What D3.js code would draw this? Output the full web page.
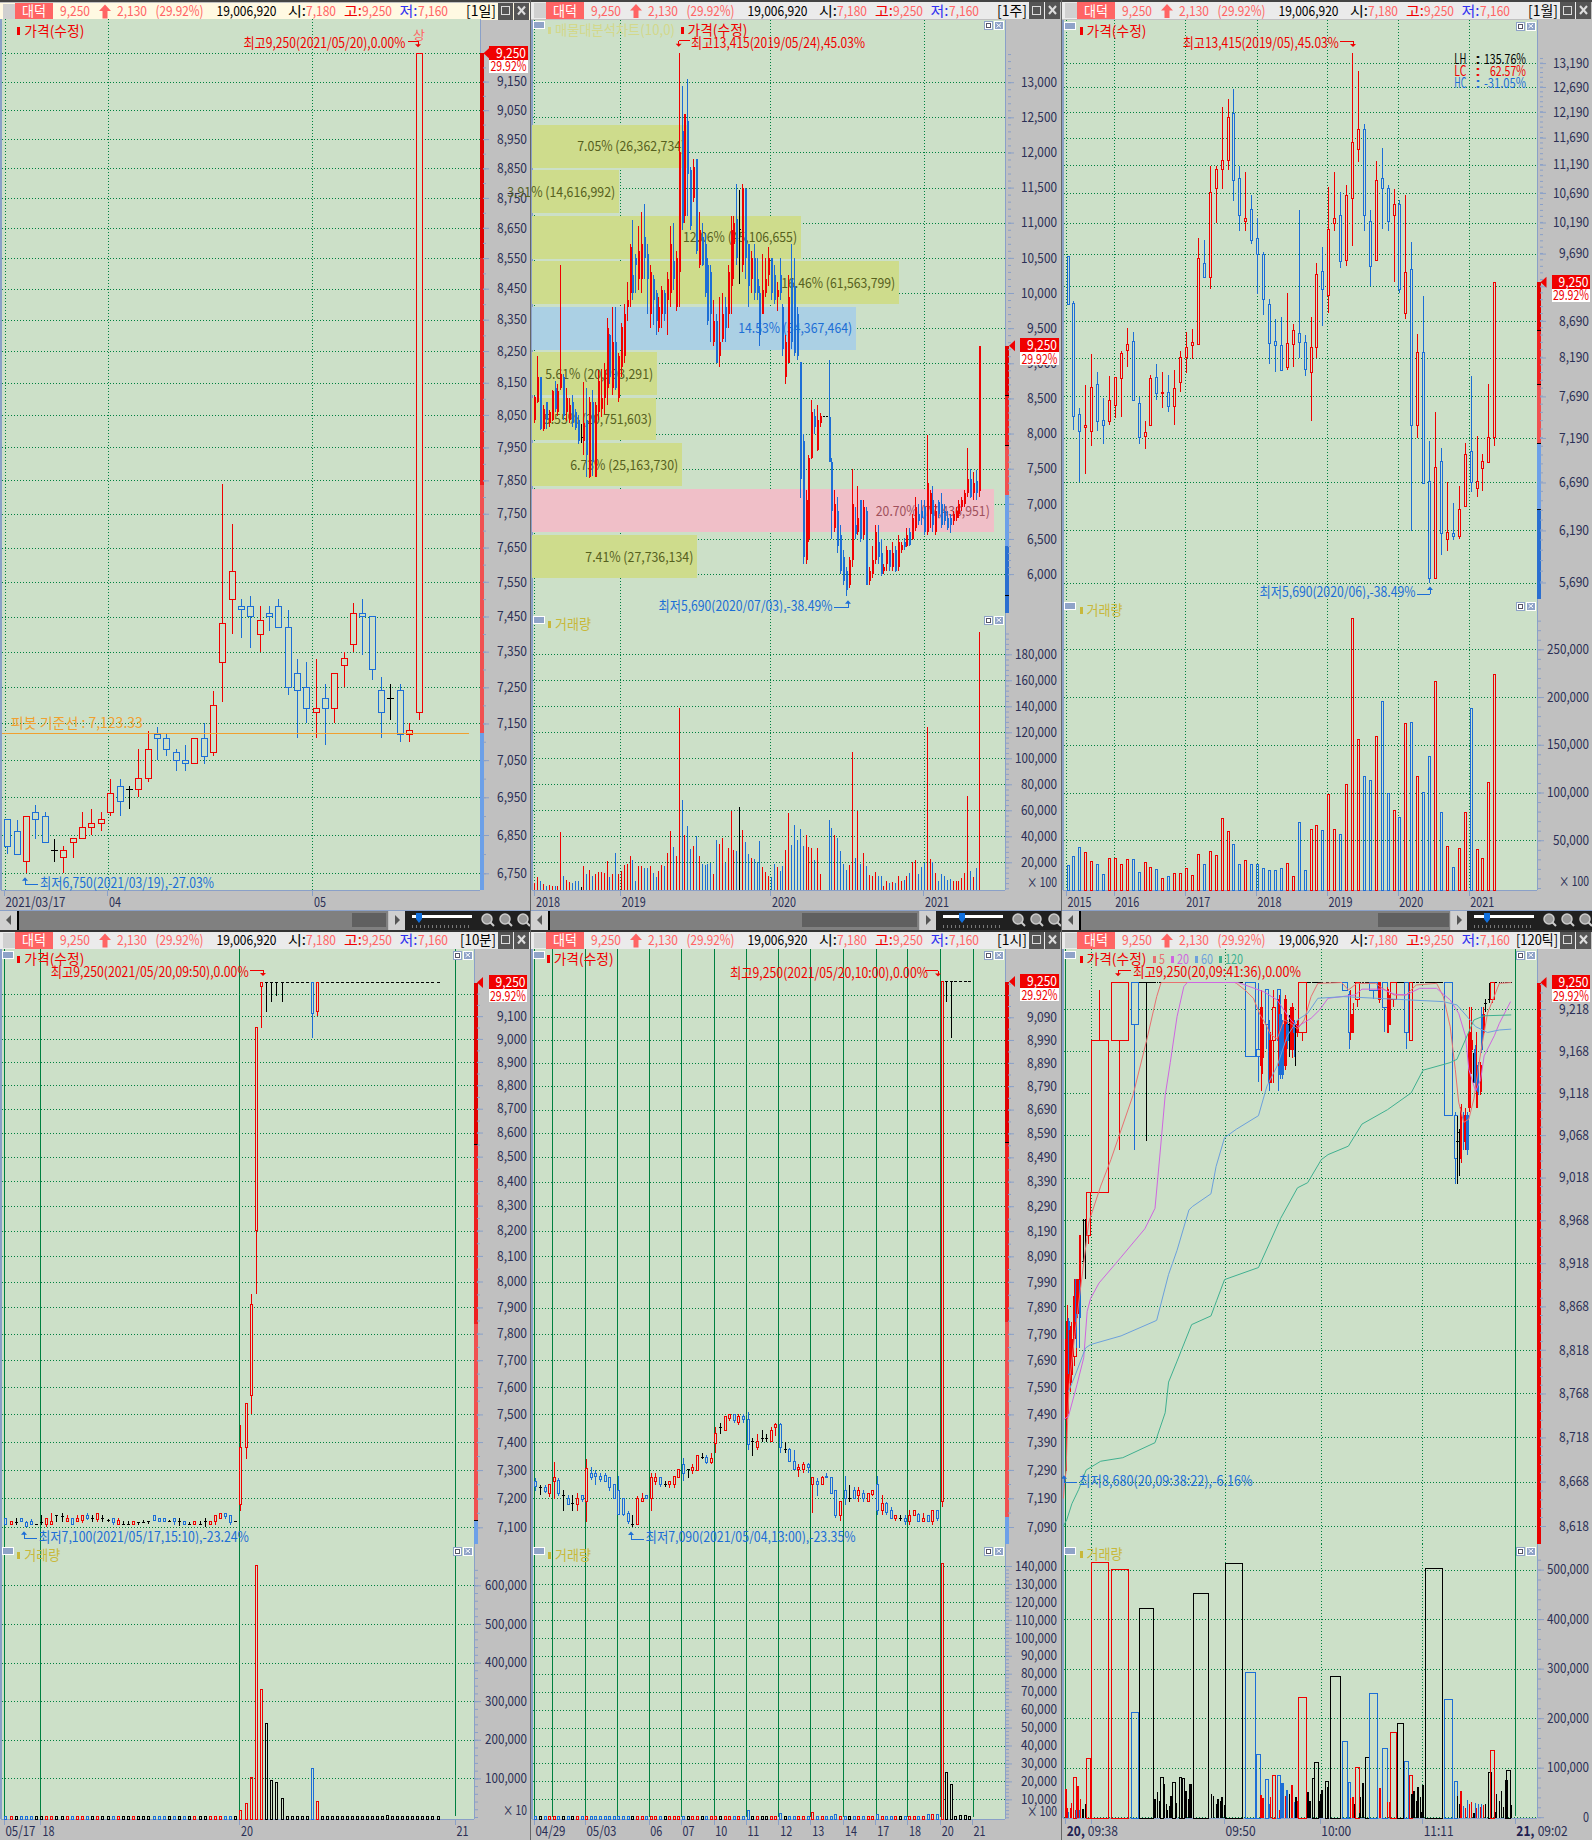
<!DOCTYPE html>
<html><head><meta charset="utf-8">
<style>html,body{margin:0;background:#c0c0c0}svg{display:block}text{font-family:"Noto Sans CJK KR","Noto Sans",sans-serif}</style>
<script src="https://cdn.jsdelivr.net/npm/d3@7"></script></head><body><script>
// ---------- DATA ----------
const stockName="대덕", lastPrice="9,250", changeAbs="2,130", changePct="(29.92%)", totalVol="19,006,920", openP="7,180", highP="9,250", lowP="7,160";
const F=[9250,9250,9250,9250];

// daily: [open, close, high, low]
const dayCandles=[[6890,6820,6890,6800],[6860,6800,6890,6800],[6780,6900,6900,6750],[6910,6890,6930,6840],[6900,6830,6910,6830],[6810,6810,6840,6780],[6790,6810,6820,6750],[6830,6840,6840,6790],[6840,6870,6910,6840],[6870,6880,6920,6850],[6880,6890,6910,6860],[6910,6960,7000,6900],[6980,6940,7000,6900],[6970,6970,6980,6920],[6970,7000,7080,6950],[7000,7080,7130,6990],[7120,7110,7140,7050],[7110,7080,7120,7060],[7070,7050,7080,7020],[7050,7040,7090,7020],[7040,7110,7110,7040],[7110,7060,7150,7040],[7070,7200,7240,7060],[7320,7430,7840,7210],[7500,7580,7720,7400],[7480,7470,7500,7390],[7480,7450,7510,7360],[7400,7440,7480,7350],[7460,7450,7480,7410],[7480,7420,7500,7420],[7420,7250,7470,7230],[7290,7240,7330,7110],[7250,7190,7320,7150],[7180,7190,7330,7110],[7220,7190,7260,7090],[7190,7290,7290,7150],[7310,7330,7350,7250],[7370,7460,7490,7350],[7460,7450,7500,7340],[7450,7300,7450,7270],[7240,7180,7280,7110],[7220,7220,7260,7160],[7240,7120,7260,7100],[7120,7130,7150,7100],[7180,9250,9250,7160]];
const dayTicks=[6750,6850,6950,7050,7150,7250,7350,7450,7550,7650,7750,7850,7950,8050,8150,8250,8350,8450,8550,8650,8750,8850,8950,9050,9150];
const pivotValue=7123.33;

// weekly: [body low, body high, high, low]; direction r/b/k
const weekDir="rrbrbrrbrr"+"brrbbbkrbr"+"brrrrrbrbr"+"rrrrbbrrbb"+"rbbrrbrrbr"+"rbrbbrbrbb"+"bbrbrrbrrr"+"bkrbbrbbbr"+"rrbbrbbrrb"+"bbbbrrrbrr"+"kkbbrbbbbr"+"rbrbrbrrrb"+"brrbrbrrbr"+"brrbbbrrbr"+"bbbbbrrrrr"+"rbrbr";
const weekBody=[
[8200,8520,8540,8150],[8450,8800,9100,8430],[8070,8800,8810,8050],[8060,8350,8400,8040],[8200,8450,8450,8060],[8150,8300,8330,8100],[8200,8600,8620,8180],[8350,8650,8750,8300],[8300,8600,8700,8250],[8650,8850,10400,8620],
[8250,8800,8850,8200],[8300,8500,8650,8180],[8200,8400,8500,8150],[8150,8450,8550,8100],[8080,8300,8350,8050],[7900,8200,8260,7850],[7950,7950,8130,7870],[7900,8150,8730,7700],[7700,8200,8650,7380],[7380,8450,8520,7370],
[7600,8450,8620,7400],[7380,8400,8450,7380],[8300,8750,8900,8200],[8350,8500,8920,8230],[8500,8900,9000,8280],[8650,9500,9650,8400],[8800,9400,9420,8700],[8650,9300,9800,8550],[8650,9300,9800,8620],[8500,9100,9150,8450],
[8950,9520,9570,8800],[9100,9700,9850,9000],[9800,9900,10150,9600],[10000,10650,10700,9800],[10000,10250,11040,9900],[10400,10500,10550,10000],[10200,10600,10950,10050],[10200,10700,11150,10000],[10500,10800,11260,10200],[10200,10550,10700,9700],
[9700,10300,10400,9500],[9900,10200,10250,9550],[9600,10000,10050,9400],[9500,9800,9950,9450],[9700,10050,10100,9500],[9700,10000,10050,9600],[9900,10200,10300,9400],[10000,10700,10950,9800],[10200,10450,11000,10050],[9800,10500,10600,9750],
[10300,12000,13415,9800],[11000,12300,12950,10900],[11100,12550,12550,11000],[11700,12450,13040,11100],[10950,11750,11800,10900],[11350,11800,11900,11300],[10600,11900,11900,10550],[10400,10900,11150,10350],[10400,10800,11000,10380],[10000,10700,10850,9950],
[9600,10400,10500,9550],[9700,10300,10400,9300],[9300,9600,9900,9250],[9000,9600,9700,9000],[9100,9300,9950,8950],[9350,9700,10000,9300],[9500,9800,9950,9300],[9700,10300,10400,9500],[10100,10900,11100,9700],[10700,11000,11100,10200],
[10500,11050,11550,10400],[10900,10900,11470,10130],[10400,11500,11550,10300],[10500,11480,11500,10200],[10100,10700,10700,9800],[10200,10500,10600,10000],[10000,10500,10700,9900],[10000,10200,10500,9900],[9400,10000,10100,9250],[9700,10050,10550,9700],
[10000,10200,10500,9950],[10250,10500,10650,10100],[10000,10500,10500,9900],[9900,10250,10400,9850],[9950,10050,10150,9750],[10000,10250,10500,9900],[9200,9800,9850,9100],[8800,9300,9400,8700],[9000,9950,10250,9000],[9300,10200,10700,9200],
[9150,10100,10500,9100],[9100,9700,9800,9050],[7350,9020,9020,7080],[6250,7900,8000,6150],[6200,7050,7200,6150],[6500,7650,7700,6450],[7650,8300,8480,7640],[8100,8250,8350,8000],[7760,8200,8400,7750],[8150,8250,8290,8090],
[8240,8240,8240,8240],[8240,8240,8240,8240],[7590,8240,9050,7590],[6900,7600,7650,6500],[6650,7000,7200,6600],[6400,6900,7100,6300],[6050,6550,6700,6000],[5900,6250,6350,5850],[5780,6050,6100,5690],[5850,6200,6250,5800],
[6200,7000,7500,6100],[6570,6700,6950,6500],[6600,6800,7260,6550],[6500,7050,7050,6450],[6550,6950,7050,6500],[5850,6900,6950,5850],[5900,6050,6100,5850],[6000,6200,6400,5950],[6200,6600,6700,6150],[6250,6450,6700,6150],
[6000,6300,6500,5980],[6050,6100,6150,6000],[6150,6350,6400,6050],[6100,6350,6350,6050],[6100,6300,6450,6050],[6050,6350,6400,6030],[6100,6450,6550,6050],[6350,6420,6450,6300],[6380,6450,6520,6350],[6400,6550,6650,6380],
[6420,6600,6650,6400],[6500,6800,6850,6480],[6650,6950,7100,6620],[6750,6850,7000,6700],[6800,6900,7050,6700],[6600,6950,7050,6550],[6600,7300,7980,6550],[6850,7150,7200,6650],[6700,7050,7250,6600],[6600,6900,7000,6560],
[6850,7020,7050,6800],[6700,7000,7150,6650],[6750,6900,7000,6700],[6650,6800,6900,6630],[6700,6800,6850,6580],[6750,6850,6900,6700],[6800,6900,6950,6750],[6850,7000,7050,6800],[6950,7050,7100,6900],[7000,7150,7200,6950],
[7150,7350,7800,7100],[7100,7350,7500,7080],[7150,7300,7450,7050],[7150,7320,7480,7050],[7180,9250,9250,7100]];
const weekVol=[3800,8500,5400,3100,1800,2300,1500,1500,1800,43100,9200,6200,4600,3800,5400,5400,800,16900,10800,13800,9200,10800,12300,12300,11500,20800,8500,10800,26900,10800,13100,17700,18500,24600,21500,5400,16900,16900,15400,15400,16900,11500,8500,13100,17700,16900,26900,43800,31500,24600,138500,67700,40800,47700,30000,32300,40000,24600,18500,17700,18500,19200,10800,36900,33800,38500,19200,30800,59200,29200,28500,62300,44600,35400,26200,23100,22300,20000,36200,16200,12300,9200,8500,18500,16200,13100,16900,29200,57700,33100,48500,36900,45400,32300,40800,31800,30800,21500,30800,10800,0,0,52300,46200,40800,38500,28500,18500,13800,17700,104600,23100,59700,18500,26900,16900,10000,9200,12300,9200,9200,1500,5400,3800,4600,3800,9200,5400,6200,9200,11500,20000,21500,10800,16200,19200,123800,22300,20000,11500,5400,10800,9200,6200,6900,5400,5400,5400,7700,11500,70800,13100,8500,15400,197200];
const weekTicks=[6000,6500,7000,7500,8000,8500,9000,9500,10000,10500,11000,11500,12000,12500,13000];
const weekVolTicks=[20000,40000,60000,80000,100000,120000,140000,160000,180000];
// volume-profile bands: [price low, price high, percent, label, kind]
const bandLow=[11784,11132,10490,9838,9196,8543,7902,7249,6596,5944];
const bandHigh=[12392,11751,11098,10457,9804,9162,8510,7868,7204,6551];
const bandPct=[7.05,3.91,12.06,16.46,14.53,5.61,5.55,6.73,20.70,7.41];
const bandVol=["26,362,734","14,616,992","45,106,655","61,563,799","54,367,464","20,993,291","20,751,603","25,163,730","77,436,951","27,736,134"];

// monthly: [open, close, high, low]
const monthCandles=[[9650,8930,9650,8930],[8940,7450,8980,7285],[7470,7270,7545,6690],[7307,7335,7835,6780],[7270,7800,8240,7100],[7840,7390,8000,7270],[7400,7340,7670,7120],[7390,7640,7950,7340],[7580,7930,7940,7420],[7910,8240,8270,7440],[8280,8360,8590,8060],[8400,7640,8540,7640],[7600,7200,7680,7120],[7210,7250,7390,7060],[7340,7910,7960,7340],[7930,7730,8110,7640],[7730,7740,8000,7550],[7740,7560,7960,7500],[7560,7790,8020,7340],[7860,8190,8280,7740],[8190,8320,8540,7990],[8350,8390,8580,8170],[8360,9610,9930,8360],[9530,9320,9900,9320],[9320,10700,11170,9150],[10760,11100,11170,10190],[11100,11270,12280,10760],[11270,12070,12440,11090],[12150,10900,12640,10550],[10950,10300,11170,10050],[10200,10250,11060,10050],[10400,9900,10650,9840],[9930,9680,10260,9080],[9680,9000,9720,8780],[8930,8380,9000,8110],[8400,8350,8710,8000],[8350,8020,8750,8020],[8060,8380,9090,8020],[8360,8550,8650,8070],[8520,8390,10400,8190],[8390,8030,8500,7950],[8000,8320,8750,7390],[8320,9370,9540,8190],[9410,9150,9790,8620],[9050,10070,10800,8800],[10170,10250,11060,10050],[10300,9560,10700,9470],[9580,10640,10830,9500],[10590,11600,13415,9810],[11460,11840,13020,11240],[11840,10300,11950,10050],[10210,9490,10400,9200],[9590,10900,11260,9570],[10950,10760,11500,10090],[10760,10200,10830,10050],[10300,10500,10750,9250],[10490,9140,10570,9090],[8800,9400,10650,8720],[9440,7340,9870,6180],[7340,8250,8510,7190],[8250,6680,9040,6680],[6700,5730,7150,5690],[5730,6850,7500,5730],[6920,6160,7070,5950],[6100,6170,6700,5990],[6160,6130,6470,6100],[6130,6400,6650,6110],[6430,7000,7130,6430],[7030,6690,7950,6590],[6630,6700,7210,6530],[6840,6920,7000,6600],[6910,7190,7840,6900],[7190,9250,9250,7100]];
const monthVol=[23700,33000,42600,37300,28000,24800,14300,31000,31000,24800,30000,30000,16400,26900,21600,19500,10100,12200,15400,15400,20600,13300,35200,24800,38400,34200,73000,59300,45700,24800,29000,24800,24800,20600,18500,18500,20600,25800,12200,68800,18500,61400,65600,60400,98000,61400,56200,108500,282000,155700,117000,112700,158800,195400,99100,81300,74000,172400,173500,117000,100200,137900,216400,79200,43600,21600,41500,79200,188100,40500,31000,110600,223700];
const monthTicks=[5690,6190,6690,7190,7690,8190,8690,9190,9690,10190,10690,11190,11690,12190,12690,13190];
const monthVolTicks=[50000,100000,150000,200000,250000];
const rangeStats=[["LH","135.76%"],["LC","62.57%"],["HC","-31.05%"]];

// 10-minute
const tenCandles=[[7131,7109,7131,7109],[7109,7120,7120,7109],[7117,7117,7131,7109],[7130,7120,7130,7120],[7117,7102,7122,7100],[7120,7109,7129,7109],[7111,7111,7111,7111],[7117,7117,7142,7108],[7109,7131,7131,7100],[7109,7120,7148,7109],[7140,7140,7142,7120],[7137,7137,7148,7120],[7120,7131,7141,7117],[7130,7109,7130,7109],[7120,7131,7141,7120],[7125,7140,7140,7116],[7142,7130,7149,7125],[7131,7131,7142,7117],[7128,7148,7148,7117],[7131,7131,7142,7117],[7125,7125,7130,7117],[7130,7117,7130,7108],[7109,7123,7132,7109],[7111,7111,7122,7111],[7111,7111,7122,7111],[7109,7120,7120,7109],[7117,7117,7117,7109],[7117,7117,7125,7117],[7120,7120,7120,7112],[7140,7125,7140,7125],[7131,7120,7131,7120],[7131,7120,7131,7120],[7120,7120,7125,7120],[7130,7120,7130,7109],[7120,7120,7131,7105],[7120,7109,7120,7109],[7111,7111,7120,7111],[7109,7120,7120,7109],[7111,7111,7122,7111],[7120,7120,7131,7100],[7109,7120,7120,7109],[7120,7140,7140,7109],[7131,7148,7148,7129],[7148,7137,7148,7127],[7142,7117,7142,7108],[7120,7120,7120,7120],[7180,7381,7462,7156],[7381,7539,7539,7338],[7570,7910,7950,7500],[8200,9050,9050,7950],[9230,9250,9250,9050],[9250,9250,9250,9120],[9250,9250,9250,9165],[9250,9250,9250,9190],[9250,9250,9250,9165],F,F,F,F,F,[9250,9110,9250,9005],[9120,9250,9250,9100],F,F,F,F,F,F,F,F,F,F,F,F,F,F,F,F,F,F,F,F,F,F,F,F];
const tenVol=[500,500,500,500,500,500,500,500,500,500,500,500,500,500,500,500,500,500,500,500,500,500,500,500,500,500,500,500,500,500,500,500,500,500,2500,500,500,500,500,500,500,500,500,500,500,500,18000,36000,102500,651000,331000,243000,95700,89700,48700,2500,500,500,2500,2000,125000,41000,500,500,500,500,500,500,500,500,500,2500,500,500,500,3000,500,500,2000,500,500,500,500,500,500,500];
const tenTicks=[7100,7200,7300,7400,7500,7600,7700,7800,7900,8000,8100,8200,8300,8400,8500,8600,8700,8800,8900,9000,9100];
const tenVolTicks=[100000,200000,300000,400000,500000,600000];

// 1-hour
const hourCandles=[[7250,7230,7262,7217],[7228,7228,7238,7200],[7228,7215,7238,7207],[7207,7238,7238,7195],[7250,7262,7320,7189],[7252,7207,7262,7198],[7198,7198,7220,7147],[7190,7168,7202,7167],[7170,7170,7202,7147],[7168,7190,7207,7147],[7198,7186,7202,7178],[7178,7296,7330,7108],[7278,7264,7300,7255],[7278,7266,7290,7237],[7266,7255,7278,7248],[7272,7248,7278,7248],[7262,7228,7266,7215],[7238,7190,7238,7187],[7219,7135,7268,7135],[7190,7135,7190,7128],[7138,7109,7147,7100],[7100,7100,7131,7090],[7100,7190,7198,7100],[7178,7190,7207,7178],[7198,7190,7198,7189],[7190,7262,7278,7147],[7250,7262,7278,7238],[7262,7237,7266,7228],[7238,7238,7250,7228],[7238,7250,7250,7227],[7238,7266,7266,7227],[7262,7290,7290,7262],[7310,7278,7333,7250],[7290,7290,7290,7262],[7288,7300,7310,7276],[7288,7340,7340,7288],[7333,7333,7352,7328],[7335,7316,7345,7310],[7318,7330,7352,7310],[7383,7420,7445,7352],[7442,7442,7460,7418],[7432,7482,7482,7432],[7476,7490,7490,7465],[7490,7469,7490,7458],[7462,7482,7490,7453],[7482,7470,7490,7458],[7472,7380,7500,7360],[7390,7390,7405,7340],[7370,7390,7420,7362],[7402,7402,7432,7390],[7402,7402,7418,7390],[7390,7432,7445,7390],[7442,7454,7460,7410],[7454,7370,7457,7349],[7362,7362,7390,7349],[7362,7320,7370,7319],[7320,7290,7362,7289],[7290,7300,7310,7266],[7290,7310,7320,7278],[7310,7300,7314,7278],[7238,7262,7262,7138],[7250,7238,7262,7198],[7238,7262,7270,7238],[7266,7262,7278,7261],[7262,7207,7262,7207],[7219,7130,7219,7120],[7130,7178,7178,7110],[7219,7188,7268,7167],[7190,7190,7238,7178],[7219,7190,7228,7189],[7198,7219,7228,7178],[7207,7190,7219,7178],[7178,7207,7207,7178],[7204,7217,7217,7198],[7238,7149,7268,7130],[7147,7170,7202,7130],[7170,7140,7178,7132],[7147,7120,7158,7119],[7118,7130,7130,7110],[7120,7120,7130,7110],[7120,7110,7130,7098],[7110,7130,7150,7098],[7130,7147,7150,7130],[7132,7110,7138,7107],[7110,7120,7138,7110],[7130,7110,7130,7110],[7110,7147,7147,7098],[7147,7120,7147,7110],[7178,9250,9250,7160],[9250,9250,9250,9160],[9250,9250,9250,9000],F,F,F,F];
const hourVol=[500,500,500,500,500,500,500,500,500,500,500,500,500,500,500,500,500,500,500,500,500,500,500,500,500,500,500,500,500,500,500,500,500,500,500,500,500,500,500,500,500,500,500,500,500,500,4000,500,500,500,500,500,500,2000,500,500,500,500,500,500,2500,500,500,500,500,1500,500,500,500,500,500,500,500,500,1500,500,500,500,500,500,500,500,500,500,500,1500,1500,1500,141500,25000,18400,500,1000,1000,500];
const hourTicks=[7090,7190,7290,7390,7490,7590,7690,7790,7890,7990,8090,8190,8290,8390,8490,8590,8690,8790,8890,8990,9090];
const hourVolTicks=d3.range(10000,150000,10000);

// 120-tick equivolume: bar start along the cumulative volume axis, and volume
const tickPos=[18,22,26,30,34,40,45,48,52,58,60,68,74,78,92,151,210,234,280,287,293,296,306,313,318,323,327,333,341,344,351,360,368,372,379,385,393,446,453,461,466,472,478,485,487,546,579,593,598,606,616,621,626,640,646,650,656,664,670,676,684,691,695,700,702,730,737,743,751,764,768,773,783,790,798,832,850,857,864,868,872,883,885,893,900,912,942,950,966,971,974,994,1015,1031,1038,1044,1050,1056,1062,1066,1071,1077,1133,1163,1171,1177,1182,1190,1194,1201,1207,1213,1220,1224,1228,1233,1240,1243,1249,1254,1262,1268,1285,1287,1295,1301,1307,1312,1317,1331];
const tickVol=[57000,19000,10000,19000,29000,81000,15000,15000,63000,15000,36000,17000,26000,119000,515000,500000,212000,421000,36000,50000,33000,81000,67000,26000,15000,22000,43000,71000,31000,29000,81000,79000,31000,52000,36000,67000,451000,47000,43000,27000,36000,33000,41000,25000,512000,293000,127000,45000,38000,77000,26000,41000,85000,85000,15000,40000,69000,43000,54000,47000,65000,31000,41000,33000,241000,50000,33000,79000,111000,33000,47000,54000,73000,60000,284000,153000,71000,38000,40000,26000,101000,8000,40000,70000,121000,250000,59000,139000,31000,31000,172000,190000,113000,85000,47000,52000,33000,60000,41000,10000,65000,503000,238000,72000,42000,26000,52000,22000,19000,34000,27000,31000,8000,28000,19000,26000,21000,26000,24000,26000,90000,135000,11000,47000,33000,52000,21000,74000,95000,24000];
// candles that moved: [bar start, open, close, high, low]; bars not listed traded flat at the high
const tickCandles=[[18,8740,8830,8835,8680],[22,8745,8850,8870,8740],[26,8850,8800,8855,8790],[30,8780,8840,8845,8770],[34,8790,8830,8850,8780],[40,8810,8880,8900,8800],[45,8835,8880,8899,8830],[48,8899,8850,8899,8820],[52,8860,8899,8900,8855],[58,8899,8855,8899,8820],[60,8899,8950,8950,8890],[68,8920,8920,8970,8919],[74,8968,8968,8970,8900],[78,8950,9000,9000,8940],[92,9000,9181,9241,9000],[151,9181,9250,9250,9050],[210,9250,9200,9250,9050],[234,9250,9250,9250,9061],[546,9250,9161,9250,9161],[579,9170,9161,9250,9131],[593,9150,9220,9241,9120],[598,9160,9200,9220,9140],[606,9241,9200,9241,9170],[616,9200,9130,9205,9120],[621,9130,9181,9190,9130],[626,9181,9220,9241,9130],[640,9241,9181,9241,9120],[646,9150,9230,9235,9140],[650,9211,9140,9215,9135],[656,9200,9140,9205,9135],[664,9150,9230,9235,9145],[670,9200,9181,9205,9170],[676,9200,9200,9211,9161],[684,9170,9220,9225,9160],[691,9200,9190,9205,9161],[695,9190,9190,9200,9150],[700,9190,9200,9205,9185],[702,9190,9250,9250,9180],[832,9250,9240,9250,9240],[850,9235,9190,9240,9170],[857,9190,9211,9241,9181],[864,9190,9211,9225,9190],[872,9230,9250,9250,9220],[912,9250,9240,9250,9230],[942,9230,9250,9250,9225],[950,9250,9220,9250,9190],[966,9190,9241,9245,9190],[971,9200,9230,9235,9200],[974,9230,9250,9250,9220],[1015,9250,9190,9250,9170],[1031,9181,9250,9250,9181],[1133,9250,9091,9250,9091],[1163,9091,9041,9095,9010],[1171,9060,9060,9091,9010],[1177,9071,9071,9075,9020],[1182,9041,9101,9105,9035],[1190,9091,9071,9095,9051],[1194,9061,9091,9100,9050],[1201,9091,9051,9095,9045],[1207,9101,9190,9220,9095],[1213,9170,9181,9220,9140],[1220,9150,9150,9165,9130],[1224,9170,9130,9175,9125],[1228,9101,9130,9190,9101],[1233,9150,9120,9155,9115],[1240,9120,9150,9155,9115],[1243,9211,9170,9220,9165],[1249,9190,9211,9220,9185],[1254,9225,9225,9230,9215],[1262,9230,9230,9250,9225],[1268,9230,9250,9250,9225]];
const ma5=[[10,8649],[14,8668],[18,8680],[22,8731],[27,8778],[45,8840],[85,8966],[120,9008],[150,9039],[215,9115],[255,9180],[285,9233],[298,9250],[515,9250],[520,9249],[545,9241],[570,9231],[590,9211],[605,9201],[620,9188],[640,9182],[660,9205],[680,9201],[700,9194],[720,9205],[740,9233],[760,9249],[830,9250],[850,9241],[875,9249],[930,9249],[950,9243],[985,9235],[1020,9235],[1050,9247],[1110,9249],[1130,9233],[1150,9197],[1165,9146],[1175,9107],[1190,9083],[1205,9087],[1220,9111],[1240,9166],[1260,9213],[1295,9249],[1330,9250]];
const ma20=[[10,8738],[25,8742],[50,8778],[70,8809],[80,8862],[90,8877],[115,8895],[180,8925],[250,8958],[280,8982],[295,9047],[310,9115],[325,9154],[345,9209],[365,9245],[375,9250],[525,9250],[600,9239],[640,9229],[680,9205],[700,9197],[740,9207],[765,9217],[790,9231],[830,9233],[870,9235],[890,9242],[950,9242],[985,9236],[1020,9235],[1060,9243],[1110,9243],[1150,9229],[1175,9213],[1195,9186],[1205,9146],[1225,9120],[1240,9134],[1250,9162],[1280,9186],[1295,9201],[1328,9227]];
const ma60=[[25,8770],[45,8789],[75,8820],[90,8824],[180,8834],[280,8851],[285,8852],[320,8905],[345,8933],[380,8980],[390,8984],[445,8999],[460,9031],[485,9065],[520,9075],[585,9091],[610,9126],[640,9150],[670,9186],[700,9205],[730,9213],[760,9231],[835,9233],[1130,9227],[1170,9223],[1200,9209],[1225,9197],[1260,9190],[1295,9193],[1330,9194]];
const ma120=[[10,8618],[20,8625],[35,8643],[55,8659],[77,8681],[120,8691],[185,8695],[280,8712],[310,8746],[320,8781],[345,8805],[388,8847],[445,8857],[462,8875],[485,8899],[585,8913],[650,8970],[700,9006],[730,9012],[770,9039],[790,9045],[850,9055],[890,9081],[965,9098],[1035,9118],[1070,9145],[1150,9154],[1170,9158],[1220,9205],[1250,9210],[1330,9211]];
const tickTicks=[8618,8668,8718,8768,8818,8868,8918,8968,9018,9068,9118,9168,9218];
const tickVolTicks=[0,100000,200000,300000,400000,500000];

// ---------- STYLE ----------
const BG="#cce0c8",GRID="#008040",AXC="#8aa0c8",LBL="#2b2f55",RED="#f00000",BLUE="#1c6ed6",SAL="#ff6464";
const COL={r:RED,b:BLUE,k:"#000"};
const tw=s=>[...s].reduce((a,c)=>a+(c.charCodeAt(0)>255?12:6),0);
const svg=d3.select("body").append("svg").attr("width",1592).attr("height",1840);
svg.append("rect").attr("width",1592).attr("height",1840).attr("fill","#c0c0c0");
function T(g,x,y,s,fill,o={}){const w=o.w||tw(s);if(o.end)x-=w;
  return g.append("text").attr("x",x).attr("y",y).attr("dy",".36em").attr("fill",fill).attr("font-size",o.size||14).attr("font-weight",o.weight||null).attr("textLength",w).attr("lengthAdjust","spacingAndGlyphs").text(s);}
function R(g,x,y,w,h,fill,stroke){return g.append("rect").attr("x",x).attr("y",y).attr("width",w).attr("height",h).attr("fill",fill).attr("stroke",stroke||"none").attr("shape-rendering","crispEdges");}
function L(g,x1,y1,x2,y2,c,sw=1,dash){return g.append("line").attr("x1",x1).attr("y1",y1).attr("x2",x2).attr("y2",y2).attr("stroke",c).attr("stroke-width",sw).attr("stroke-dasharray",dash||null).attr("shape-rendering","crispEdges");}

function header(x0,y0,period,active){const g=svg.append("g"),yc=y0+8.5;
  R(g,x0,y0,530-(x0?1:0),17,active?"#fff9e2":"#ebebeb");
  R(g,x0+3,y0+1,12,15,"#d0d0d0");R(g,x0+15,y0,38,17,SAL);
  T(g,x0+22,yc,stockName,"#fff",{size:14});
  T(g,x0+60,yc,lastPrice,SAL);
  g.append("path").attr("d",`M${x0+105},${y0+2}l6,6.5h-3.5v7.5h-5v-7.5h-3.5z`).attr("fill",SAL);
  T(g,x0+117,yc,changeAbs,SAL);T(g,x0+155.5,yc,changePct,SAL);
  T(g,x0+216.5,yc,totalVol,"#000");T(g,x0+288,yc,"시:","#000");T(g,x0+306,yc,openP,SAL);
  T(g,x0+344,yc,"고:",RED);T(g,x0+362,yc,highP,SAL);T(g,x0+399.5,yc,"저:","#3030f0");T(g,x0+418,yc,lowP,SAL);
  T(g,x0+496,yc,"["+period+"]","#000",{end:true});
  [498,514].forEach((b,i)=>{R(g,x0+b,y0,15,17,"#555");
    if(i==0)R(g,x0+b+3.5,y0+4,8,8,"none","#ddd");else{L(g,x0+b+4,y0+4,x0+b+11,y0+12,"#ddd",2).attr("shape-rendering",null);L(g,x0+b+11,y0+4,x0+b+4,y0+12,"#ddd",2).attr("shape-rendering",null);}});
}
function scrollbar(x0,t0,t1,knob){const g=svg.append("g"),y=911;
  L(g,x0,910.5,x0+530,910.5,AXC);
  R(g,x0,y,388,19,"#808080");R(g,x0,y,17,19,"#d0d0d0");R(g,x0+17,y,1.5,19,"#000");
  R(g,t0,y+2,t1-t0,14,"#606060");R(g,x0+389,y,16,19,"#d0d0d0");
  g.append("path").attr("d",`M${x0+6},${y+9}l5,-5v10z`).attr("fill","#555");
  g.append("path").attr("d",`M${x0+400},${y+9}l-5,-5v10z`).attr("fill","#555");
  R(g,x0+405,y,125,19,"#202020");R(g,x0+412,y+4,60,3,"#fff");
  d3.range(412,472,4).forEach(d=>L(g,x0+d,y+14,x0+d,y+17,"#777"));
  g.append("path").attr("d",`M${knob-3},${y+2}h6v6l-3,4l-3,-4z`).attr("fill","#1070e0");
  [487,505,523].forEach(d=>{g.append("circle").attr("cx",x0+d).attr("cy",y+8).attr("r",5).attr("fill","#999").attr("stroke","#ccc").attr("stroke-width",1.5);
    g.append("line").attr("x1",x0+d+3.5).attr("y1",y+11.5).attr("x2",x0+d+7).attr("y2",y+15).attr("stroke","#ccc").attr("stroke-width",2);});
  R(g,x0,y+19,530,2,"#333");
}
function frame(l,t,r,b){const g=svg.append("g");R(g,l,t,r-l,b-t,BG);L(g,l-.5,t,l-.5,b,AXC,2);L(g,l,b+.5,r,b+.5,AXC);L(g,r+.5,t,r+.5,b,AXC);return g;}
function winIcons(g,l,r,y){R(g,l+1,y,11,7,"#8fa3c8","#fff");
  R(g,r-21,y,8.5,8,"#fff","#8fa3c8");R(g,r-19,y+2,4.5,4,"#fff","#556");R(g,r-10.5,y,8.5,8,"#8fa3c8","#fff");
  L(g,r-8.5,y+2,r-4,y+6,"#fff").attr("shape-rendering",null);L(g,r-4,y+2,r-8.5,y+6,"#fff").attr("shape-rendering",null);}
function hgrid(g,y,vals,l,r){g.selectAll(null).data(vals).join("line").attr("x1",l).attr("x2",r).attr("y1",d=>Math.round(y(d))+.5).attr("y2",d=>Math.round(y(d))+.5).attr("stroke",GRID).attr("stroke-dasharray","1 2").attr("shape-rendering","crispEdges");}
function vdots(g,xs,t,b){xs.forEach(x=>L(g,Math.round(x)+.5,t,Math.round(x)+.5,b,GRID,1,"1 2"));}
function vsolid(g,xs,t,b){xs.forEach(x=>L(g,Math.round(x)+.5,t,Math.round(x)+.5,b,GRID,1.2));}
function yAxis(y,plotR,labelR,major,minor){
  const f=d3.format(",");
  const m=svg.append("g").attr("transform",`translate(${plotR},0)`).call(d3.axisRight(y).tickValues(minor).tickSize(3).tickFormat(()=>""));
  m.select(".domain").remove();m.selectAll("line").attr("stroke",AXC);
  const a=svg.append("g").attr("transform",`translate(${plotR},0)`).call(d3.axisRight(y).tickValues(major).tickSize(6).tickFormat(f));
  a.select(".domain").remove();a.selectAll("line").attr("stroke",AXC);
  a.selectAll("text").each(function(d){const s=f(d);d3.select(this).attr("x",labelR-plotR-tw(s)).attr("text-anchor","start").attr("textLength",tw(s)).attr("lengthAdjust","spacingAndGlyphs").attr("fill",LBL).attr("font-size",14).attr("dy",".3em");});
}
function candles(g,data,x,y,o){const hw=o.w/2;
  data.forEach((d,i)=>{const [op,cl,hi,lo]=d,dir=o.dir?o.dir(i):(cl>op?"r":cl<op?"b":"k"),c=COL[dir],cx=Math.round(x(i))+.5;
    const top=y(Math.max(op,cl)),bot=y(Math.min(op,cl));
    if(hi>Math.max(op,cl))L(g,cx,y(hi),cx,top,c);
    if(lo<Math.min(op,cl))L(g,cx,bot,cx,y(lo),c);
    if(op===cl)L(g,cx-hw-.5,top,cx+hw+.5,top,c);
    else if(o.solid)R(g,cx-.5,top,2,Math.max(bot-top,1),c);
    else R(g,cx-hw,top,o.w,Math.max(bot-top,1),BG,c);
  });}
function volBars(g,vals,x,y,bottom,dirf,w,solid){
  g.selectAll(null).data(vals.map((v,i)=>({v,i})).filter(d=>d.v>0)).join("rect")
   .attr("x",d=>Math.round(x(d.i))+(solid?0:.5-w/2)).attr("width",w).attr("y",d=>Math.min(y(d.v),bottom-1)).attr("height",d=>Math.max(bottom-y(d.v),1))
   .attr("fill",solid?d=>COL[dirf(d.i)]:"none").attr("stroke",solid?"none":d=>COL[dirf(d.i)]).attr("shape-rendering","crispEdges");}
function sideBar(y,x,w,bottom,cuts,cols){const g=svg.append("g");let y0=y(cuts[0]);
  cuts.slice(1).concat([null]).forEach((c,i)=>{const y1=c===null?bottom:y(c);R(g,x,y0,w,y1-y0,cols[i]);if(c!==null)L(g,x,y1,x+w,y1,"#000");y0=y1;});}
function tag(yc,arrowX,boxX,boxW){const g=svg.append("g");
  g.append("path").attr("d",`M${arrowX},${yc}l6,-5.5v11z`).attr("fill",RED);
  R(g,boxX,yc-7.5,boxW,14,RED);T(g,boxX+boxW-1.5,yc-.5,"9,250","#fff",{end:true});
  R(g,boxX,yc+6.5,boxW,13,"#fff");T(g,boxX+boxW-1,yc+13,"29.92%",RED,{end:true});}
function annUp(g,xTxt,yc,s,color,ax0,ax1,kind){
  T(g,xTxt,yc,s,color);
  L(g,ax0,yc+(kind[0]=="d"?-2:2),ax1,yc+(kind[0]=="d"?-2:2),color);
  const hookX=kind.includes("L")?ax0:ax1;
  if(kind[0]=="d"){g.append("path").attr("d",`M${hookX-3},${yc+1}h6l-3,3z`).attr("fill",color);L(g,hookX,yc-2,hookX,yc+2,color);}
  else{g.append("path").attr("d",`M${hookX-3},${yc-2}h6l-3,-3.5z`).attr("fill",color);L(g,hookX,yc-3,hookX,yc+2,color);}
}
function title(g,x,y,s,color,bw=3){R(g,x-7,y-3.5,bw,7.5,color);T(g,x,y,s,color);}
const segCols=["#e00000","#ee2020","#f05050","#6ca0e8","#2a6fd0","#2a6fd0"];
const dirOHLC=arr=>i=>{const d=arr[i]||F;return d[1]>d[0]?"r":d[1]<d[0]?"b":"k";};

// ---------- PANEL 1: DAILY ----------
(function(){const l=1,t=19,r=480,b=890;
  header(0,2.5,"1일",true);
  const g=frame(l,t,r,b);
  const y=d3.scaleLog().domain([6750,9250]).range([873.3,53.3]);
  const x=d3.scaleLinear().domain([0,44]).range([7.4,418.5]);
  hgrid(g,y,dayTicks.concat([9250]),l+1,r);vdots(g,[4.7,107.5,312.4],t,b);
  candles(g,dayCandles,x,y,{w:6});
  g.append("line").attr("x1",2).attr("x2",469).attr("y1",y(pivotValue)).attr("y2",y(pivotValue)).attr("stroke","#f0a030").attr("shape-rendering","crispEdges");
  T(g,10.8,723,"피봇 기준선 : 7,123.33","#f0a030",{w:132});
  title(g,24.3,30.5,"가격(수정)",RED);
  annUp(g,243.4,43.3,"최고9,250(2021/05/20),0.00%",RED,408,418,"dn");
  T(g,413,36,"상",SAL,{size:12});
  annUp(g,40,882.7,"최저6,750(2021/03/19),-27.03%",BLUE,25,38,"upL");
  sideBar(y,480,3.5,b,[9250,8550,7835,7123],segCols);
  yAxis(y,483,527,dayTicks,d3.range(6750,9250,50));
  tag(y(9250),483.5,489,38.5);
  const a=svg.append("g");
  [[107.5,"04",109],[312.4,"05",314],[4.7,"2021/03/17",5.5]].forEach(d=>{L(a,d[0],891,d[0],896,AXC);T(a,d[2],902,d[1],LBL);});
  scrollbar(0,352,386,419);
})();

// ---------- PANEL 2: WEEKLY ----------
(function(){const l=532,t=20,sep=613,r=1005,b=890;
  header(531,2,"1주",false);
  const g=frame(l,t,r,sep),gv=frame(l,sep,r,b);
  const y=d3.scaleLinear().domain([6000,13000]).range([574.1,82.2]);
  const x=d3.scaleLinear().domain([0,154]).range([534.4,978.6]);
  const yv=d3.scaleLinear().domain([0,180000]).range([888.3,654.3]);
  const vx=[534.4,620.3,770.4,923.5];
  hgrid(g,y,weekTicks,l+1,r);vdots(g,vx,t,sep);
  const wPct=d3.scaleLinear().domain([0,20.70]).range([532,993.8]);
  bandPct.forEach((p,i)=>{const c=i==8?"#f0bfc8":i==4?"#abd0e4":"#cedc8c",tc=i==8?"#a0505c":i==4?"#1c6ed6":"#56601e";
    R(g,532,y(bandHigh[i]),wPct(p)-532,y(bandLow[i])-y(bandHigh[i]),c);
    const s=p.toFixed(2)+"% ("+bandVol[i]+")";
    T(g,wPct(p)-4,(y(bandHigh[i])+y(bandLow[i]))/2,s,tc,{end:true});});
  const wdata=weekBody.map((d,i)=>weekDir[i]=="b"?[d[1],d[0],d[2],d[3]]:d);
  candles(g,wdata,x,y,{w:1,solid:true,dir:i=>weekDir[i]||"k"});
  winIcons(g,l,r,21.5);
  title(g,555,30,"매물대분석차트(10,0)","#d3d88c");
  title(g,687.5,30,"가격(수정)",RED);
  annUp(g,691,42.7,"최고13,415(2019/05/24),45.03%",RED,678.7,690,"dnL");
  annUp(g,658.5,605.8,"최저5,690(2020/07/03),-38.49%",BLUE,834,848,"up");
  sideBar(y,1005,3.5,sep,[9250,8540,7830,7125,6394,5690],segCols);
  hgrid(gv,yv,weekVolTicks,l+1,r);vdots(gv,vx,sep,b);
  volBars(gv,weekVol,x,yv,b,i=>weekDir[i]||"k",1,true);
  winIcons(gv,l,r,616);
  title(gv,555,624,"거래량","#c8b83a");
  yAxis(y,1008,1057,weekTicks,d3.range(6000,13500,100));
  yAxis(yv,1006,1057,weekVolTicks,d3.range(0,200000,4000));
  T(svg,1057,881.7,"× 100",LBL,{end:true});
  tag(y(9250),1009,1020,38.5);
  const a=svg.append("g");
  [[534.4,"2018"],[620.3,"2019"],[770.4,"2020"],[923.5,"2021"]].forEach(d=>{L(a,d[0],891,d[0],896,AXC);T(a,d[0]+1.5,902,d[1],LBL);});
  scrollbar(531,802,917,962);
})();

// ---------- PANEL 3: MONTHLY ----------
(function(){const l=1063,t=20,sep=599,r=1537,b=890;
  header(1062,2,"1월",false);
  const g=frame(l,t,r,sep),gv=frame(l,sep,r,b);
  const y=d3.scaleLog().domain([5690,13190]).range([582.5,63.1]);
  const x=d3.scaleLinear().domain([0,72]).range([1067.5,1494.3]);
  const yv=d3.scaleLinear().domain([0,250000]).range([888,649.3]);
  const vx=[1066.4,1114.3,1185.2,1256.5,1327.4,1398.3,1469.2];
  hgrid(g,y,monthTicks,l+1,r);vdots(g,vx,t,sep);
  candles(g,monthCandles,x,y,{w:2});
  winIcons(g,l,r,22);
  title(g,1086.5,30.6,"가격(수정)",RED);
  annUp(g,1182.8,43,"최고13,415(2019/05),45.03%",RED,1340,1353,"dn");
  rangeStats.forEach((d,i)=>{const c=["#000",RED,BLUE][i],yy=59+i*12;T(g,1454.3,yy,d[0],c);T(g,1475,yy,":",c);T(g,1526,yy,d[1],c,{end:true});});
  annUp(g,1259.5,592,"최저5,690(2020/06),-38.49%",BLUE,1417,1430,"up");
  sideBar(y,1537,3.5,sep,[9250,8550,7835,7120,6400,5700],segCols);
  hgrid(gv,yv,monthVolTicks,l+1,r);vdots(gv,vx,sep,b);
  volBars(gv,monthVol,x,yv,b,dirOHLC(monthCandles),2,false);
  winIcons(gv,l,r,602);
  title(gv,1086.5,610,"거래량","#c8b83a");
  yAxis(y,1540,1589,monthTicks,d3.range(5700,13400,100));
  yAxis(yv,1538,1589,monthVolTicks,d3.range(0,290000,10000));
  T(svg,1589,881,"× 100",LBL,{end:true});
  tag(y(9250),1540.5,1552,38);
  const a=svg.append("g");
  [[1066.4,"2015"],[1114.3,"2016"],[1185.2,"2017"],[1256.5,"2018"],[1327.4,"2019"],[1398.3,"2020"],[1469.2,"2021"]].forEach(d=>{L(a,d[0],891,d[0],896,AXC);T(a,d[0]+1,902,d[1],LBL);});
  scrollbar(1062,1378,1449,1487);
})();

// ---------- PANEL 4: 10 MIN ----------
(function(){const l=1,t=949,sep=1544,r=474,b=1819;
  header(0,931.5,"10분",false);
  const g=frame(l,t,r,sep),gv=frame(l,sep,r,b);
  const y=d3.scaleLog().domain([7100,9250]).range([1527.3,982.5]);
  const x=d3.scaleLinear().domain([0,46,60,85]).range([5.4,240.4,312.4,437.5]);
  const yv=d3.scaleLinear().domain([0,600000]).range([1817,1585.3]);
  const vx=[4.4,40.2,239.4,455.4];
  hgrid(g,y,tenTicks.concat([9200]),l+1,r);vsolid(g,vx,t,sep);
  candles(g,tenCandles,x,y,{w:2});
  winIcons(g,l,r,951);
  title(g,24.3,959,"가격(수정)",RED);
  annUp(g,50.7,972,"최고9,250(2021/05/20,09:50),0.00%",RED,250,263,"dn");
  annUp(g,38.9,1536.7,"최저7,100(2021/05/17,15:10),-23.24%",BLUE,24,37,"upL");
  sideBar(y,474,3.5,sep,[9250,8550,7835,7123],segCols);
  hgrid(gv,yv,tenVolTicks,l+1,r);vsolid(gv,vx,sep,b-3);
  volBars(gv,tenVol,x,yv,b,dirOHLC(tenCandles),2,false);
  winIcons(gv,l,r,1547);
  title(gv,24.3,1555,"거래량","#c8b83a");
  yAxis(y,477,527,tenTicks,d3.range(7100,9250,50));
  yAxis(yv,475,527,tenVolTicks,d3.range(0,660000,20000));
  T(svg,527,1810,"× 10",LBL,{end:true});
  tag(y(9250),477,489,38);
  const a=svg.append("g");
  [[4.4,"05/17",5.5],[40.2,"18",42.5],[239.4,"20",241],[455.4,"21",456.5]].forEach(d=>{L(a,d[0],1820,d[0],1825,AXC);T(a,d[2],1831,d[1],LBL);});
})();

// ---------- PANEL 5: 1 HOUR ----------
(function(){const l=532,t=949,sep=1544,r=1005,b=1819;
  header(531,931.5,"1시",false);
  const g=frame(l,t,r,sep),gv=frame(l,sep,r,b);
  const y=d3.scaleLog().domain([7090,9250]).range([1527,981.5]);
  const x=d3.scaleLinear().domain([0,94]).range([535.4,969.2]);
  const yv=d3.scaleLinear().domain([0,140000]).range([1817.3,1566]);
  const vx=[13,66,164,258,353,448,545,640,735,829,927,1022,1116,1214,1309].map(z=>530+z/2.958);
  hgrid(g,y,hourTicks.concat([9190]),l+1,r);vsolid(g,vx,t,sep);
  candles(g,hourCandles,x,y,{w:2});
  winIcons(g,l,r,951);
  title(g,553.7,958.5,"가격(수정)",RED);
  annUp(g,730,972.6,"최고9,250(2021/05/20,10:00),0.00%",RED,925,938,"dn");
  annUp(g,645.6,1537,"최저7,090(2021/05/04,13:00),-23.35%",BLUE,631,644,"upL");
  sideBar(y,1005,3.5,sep,[9250,8550,7835,7123],segCols);
  hgrid(gv,yv,hourVolTicks,l+1,r);vsolid(gv,vx,sep,b-2);
  volBars(gv,hourVol,x,yv,b,dirOHLC(hourCandles),2,false);
  winIcons(gv,l,r,1547);
  title(gv,555,1555,"거래량","#c8b83a");
  yAxis(y,1008,1057,hourTicks,d3.range(7090,9250,50));
  yAxis(yv,1006,1057,hourVolTicks,d3.range(0,142000,2000));
  T(svg,1057,1810.7,"× 100",LBL,{end:true});
  tag(y(9250),1009,1020,38.5);
  const a=svg.append("g");
  [[13,"04/29",16],[164,"05/03",167],[353,"06",356],[448,"07",451],[545,"10",548],[640,"11",643],[735,"12",740],[829,"13",835],[927,"14",932],[1022,"17",1027],[1116,"18",1121],[1214,"20",1218],[1309,"21",1312]].forEach(d=>{L(a,530+d[0]/2.958,1820,530+d[0]/2.958,1825,AXC);T(a,530+d[2]/2.958,1831,d[1],LBL);});
})();

// ---------- PANEL 6: 120 TICK ----------
(function(){const l=1063,t=949,sep=1544,r=1537,b=1818;
  header(1062,931.5,"120틱",false);
  const g=frame(l,t,r,sep-.5),gv=frame(l,sep-.5,r,b);
  const y=d3.scaleLog().domain([8618,9250]).range([1526,982.5]);
  const xs=d3.scaleLinear().domain([0,1568]).range([1060,1592]);
  const yv=d3.scaleLinear().domain([0,500000]).range([1817.2,1569.6]);
  const barW=v=>Math.max(v*3.4e-5,1.2);
  const cmap=new Map(tickCandles.map(d=>[d[0],d]));
  const dirOf=p=>{const c=cmap.get(p);if(!c)return "k";return c[2]>c[1]?"r":c[2]<c[1]?"b":"k";};
  const vd=[92,485,768,1068].map(z=>xs(z)),vs=[16,1342].map(z=>xs(z));
  hgrid(g,y,tickTicks,l+1,r);vdots(g,vd,t,sep);vsolid(g,vs,t,sep);
  tickPos.forEach((p,i)=>{if(cmap.has(p))return;const w=barW(tickVol[i]),wide=w>=2.4,x0=wide?xs(p):xs(p)-w/2;
    L(g,x0,y(9250),x0+w,y(9250),"#000");});
  tickCandles.forEach(d=>{const [p,o,c,h,lo]=d,i=tickPos.indexOf(p),v=tickVol[i],w=barW(v),wide=w>=2.4,dir=dirOf(p),col=COL[dir];
    const x0=wide?xs(p):xs(p)-w/2,cx=x0+w/2,top=y(Math.max(o,c)),bot=y(Math.min(o,c));
    if(h>Math.max(o,c))L(g,cx,y(h),cx,top,col);
    if(lo<Math.min(o,c))L(g,cx,bot,cx,y(lo),col);
    if(o===c)L(g,x0-.5,top,x0+w+.5,top,col);
    else R(g,x0,top,w,Math.max(bot-top,1),wide?BG:col,col);
  });
  const line=d3.line().x(d=>xs(d[0])).y(d=>y(d[1]));
  [[ma5,"#e87070"],[ma20,"#cf66e0"],[ma60,"#6ca0dc"],[ma120,"#40b090"]].forEach(m=>g.append("path").attr("d",line(m[0])).attr("fill","none").attr("stroke",m[1]).attr("stroke-width",1));
  winIcons(g,l,r,951);
  title(g,1086.5,959,"가격(수정)",RED);
  T(g,1159,959,"5","#e87070");R(g,1152.5,955.5,3,7.5,"#e87070");
  T(g,1177,959,"20","#cf66e0");R(g,1170.5,955.5,3,7.5,"#cf66e0");
  T(g,1201,959,"60","#6ca0dc");R(g,1194.5,955.5,3,7.5,"#6ca0dc");
  T(g,1225,959,"120","#40b090");R(g,1218.5,955.5,3,7.5,"#40b090");
  annUp(g,1133,972.3,"최고9,250(20,09:41:36),0.00%",RED,1118,1131,"dnL");
  annUp(g,1078.7,1480.8,"최저8,680(20,09:38:22),-6.16%",BLUE,1064,1077,"upL");
  R(svg,1537,982.5,3.5,sep-982.5,"#e80000");
  hgrid(gv,yv,tickVolTicks,l+1,r);vdots(gv,vd,sep,b);vsolid(gv,vs,sep,b-2);
  tickPos.forEach((p,i)=>{const v=tickVol[i],w=barW(v),wide=w>=2.4,col=COL[dirOf(p)],x0=wide?xs(p):xs(p)-w/2;
    R(gv,x0,yv(v),w,b-yv(v),wide?"none":col,wide?col:"none");});
  winIcons(gv,l,r,1547);
  title(gv,1086.5,1554,"거래량","#c8b83a");
  yAxis(y,1540,1589,tickTicks,d3.range(8618,9250,10));
  yAxis(yv,1538,1589,tickVolTicks,d3.range(0,540000,20000));
  tag(y(9250),1540.5,1552,38);
  const a=svg.append("g");
  [[16,20,"20,",true],[92,82,"09:38"],[485,488,"09:50"],[768,770,"10:00"],[1068,1072,"11:11"],[1342,1345,"21,",true],[1342,1408,"09:02"]].forEach(d=>{L(a,xs(d[0]),1819,xs(d[0]),1824,AXC);T(a,xs(d[1]),1831,d[2],d[3]?"#202050":LBL,{weight:d[3]?700:null});});
})();
R(svg,0,0,1592,2,"#444");
L(svg,530.5,0,530.5,1840,"#666");L(svg,1061.5,0,1061.5,1840,"#666");
</script></body></html>
